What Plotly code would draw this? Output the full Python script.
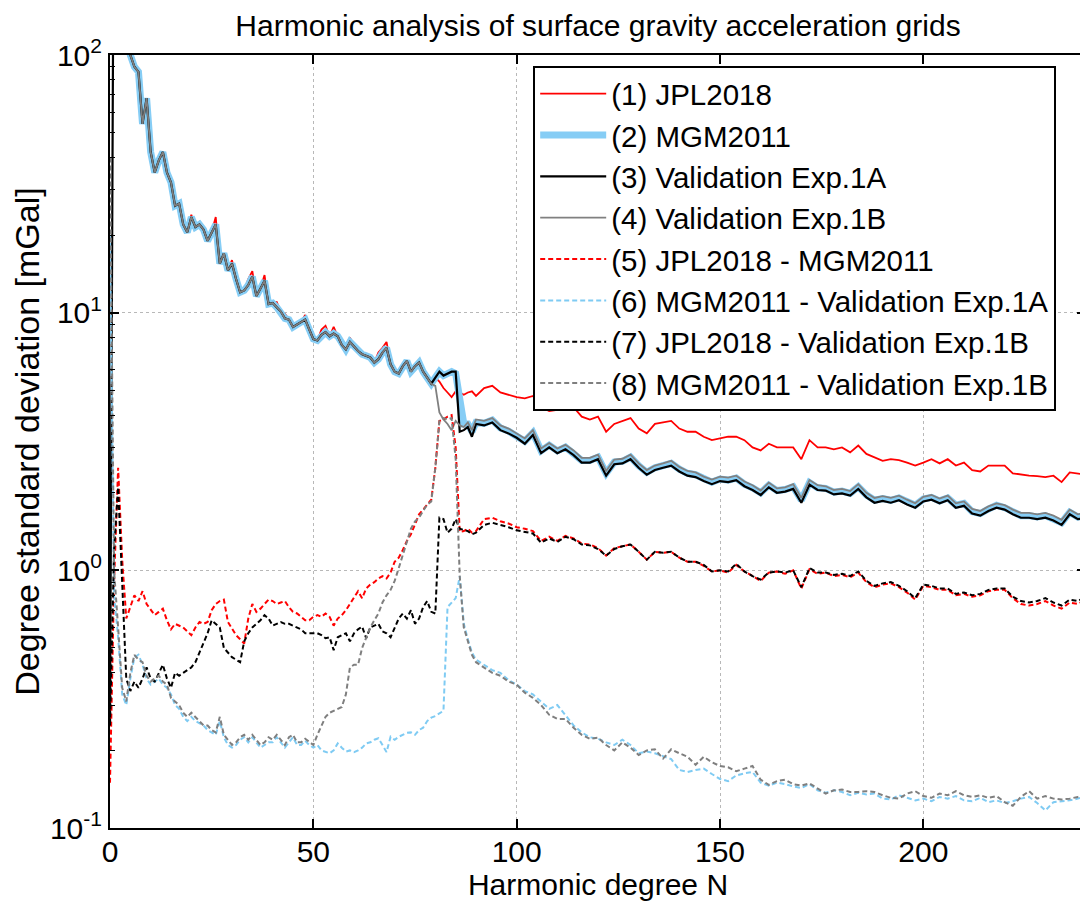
import plotly.graph_objects as go

# Harmonic degrees: per-degree head (0..90) and every second degree in the tail (92..240)
deg_head = list(range(0, 91))
deg_tail = list(range(92, 241, 2))

# (1) JPL2018
jpl_head = [None, 900, 400, 250, 150, 100, 90, 86, 54, 68,
            42, 35, 39, 42, 35, 32, 26, 26.5, 22, 21,
            24, 21.5, 22.5, 21, 19, 20.5, 23.5, 15.5, 17, 14.6,
            16, 13.5, 12, 12.2, 13.5, 14.5, 11.6, 12.4, 14, 10.8,
            10.9, 11, 10.1, 9.9, 9.4, 8.8, 9.0, 9.2, 9.8, 8.6,
            7.9, 7.8, 8.6, 8.9, 8.1, 8.8, 8.1, 7.5, 7.5, 8.0,
            7.4, 7.1, 6.9, 6.8, 6.7, 6.4, 7.0, 7.3, 7.7, 6.3,
            5.9, 5.8, 6.2, 6.5, 5.9, 6.2, 6.4, 5.9, 5.6, 5.4,
            5.6, 5.4, 5.1, 4.9, 4.7, 4.95, 4.9, 4.8, 4.9, 4.95,
            4.75]
jpl_tail = [5.1, 5.2, 4.9, 4.8, 4.7,
            4.65, 4.75, 4.3, 4.15, 4.2,
            4.25, 4.3, 3.95, 3.85, 3.95,
            3.45, 3.7, 3.8, 3.9, 3.55,
            3.4, 3.7, 3.75, 3.8, 3.55,
            3.45, 3.45, 3.3, 3.2, 3.25,
            3.3, 3.3, 3.2, 3.0, 2.92,
            3.1, 3.0, 3.0, 3.0, 2.7,
            3.2, 3.0, 3.0, 2.95, 3.0,
            2.87, 3.05, 2.83, 2.75, 2.66,
            2.7, 2.68, 2.62, 2.55, 2.62,
            2.7, 2.6, 2.7, 2.55, 2.62,
            2.45, 2.42, 2.55, 2.55, 2.55,
            2.38, 2.35, 2.33, 2.32, 2.3,
            2.33, 2.2, 2.4, 2.37, 2.35]

# (2) MGM2011
mgm_head = [None, 900, 400, 250, 150, 100, 90, 86, 54, 68,
            42, 35, 39, 42, 35, 32, 26, 26.5, 22, 20.5,
            23.5, 21.5, 22, 21, 19, 20.5, 22, 15.5, 17, 14.6,
            15.5, 13.5, 12, 12.2, 12.8, 13.8, 11.6, 12.4, 13.3, 10.8,
            10.9, 10.5, 10.1, 9.5, 9.4, 8.8, 9.0, 9.2, 9.4, 8.6,
            7.9, 7.8, 8.2, 8.4, 8.1, 8.3, 8.1, 7.5, 7.2, 7.7,
            7.4, 7.1, 6.9, 6.8, 6.7, 6.4, 6.6, 7.0, 7.3, 6.3,
            5.9, 5.8, 6.2, 6.5, 5.9, 6.2, 6.4, 5.9, 5.6, 5.3,
            5.6, 5.9, 5.7, 5.8, 5.9, 5.8, 4.6, 3.7, 3.7, 3.45,
            3.75]
mgm_tail = [3.72, 3.83, 3.57, 3.47, 3.33,
            3.17, 3.42, 2.91, 3.06, 2.91,
            3.01, 2.86, 2.67, 2.67, 2.75,
            2.38, 2.63, 2.65, 2.75, 2.55,
            2.4, 2.5, 2.55, 2.6, 2.47,
            2.38, 2.35, 2.26, 2.2, 2.26,
            2.24, 2.28, 2.16, 2.09, 2.0,
            2.14, 2.04, 2.06, 2.11, 1.87,
            2.19, 2.09, 2.08, 2.01, 2.03,
            1.99, 2.11, 1.96, 1.87, 1.9,
            1.87, 1.91, 1.84, 1.79, 1.89,
            1.92, 1.86, 1.91, 1.79, 1.82,
            1.69, 1.66, 1.73, 1.79, 1.75,
            1.68, 1.63, 1.63, 1.61, 1.63,
            1.59, 1.53, 1.68, 1.61, 1.63]

# (3) Validation Exp.1A
v1a_head = [0.25, 900, 400, 250, 150, 100, 90, 86, 54, 68,
            42, 35, 39, 42, 35, 32, 26, 26.5, 22, 20.5,
            23.5, 21.5, 22, 21, 19, 20.5, 22, 15.5, 17, 14.6,
            15.5, 13.5, 12, 12.2, 12.8, 13.8, 11.6, 12.4, 13.3, 10.8,
            10.9, 10.5, 10.1, 9.5, 9.4, 8.8, 9.0, 9.2, 9.4, 8.6,
            7.9, 7.8, 8.2, 8.4, 8.1, 8.3, 8.1, 7.5, 7.2, 7.7,
            7.4, 7.1, 6.9, 6.8, 6.7, 6.4, 6.6, 7.0, 7.3, 6.3,
            5.9, 5.8, 6.2, 6.5, 5.9, 6.2, 6.4, 5.9, 5.6, 5.3,
            5.6, 5.9, 5.7, 5.8, 5.9, 5.9, 3.45, 3.5, 3.6, 3.3,
            3.7]
v1a_tail = [3.65, 3.75, 3.5, 3.4, 3.27,
            3.1, 3.35, 2.85, 3.0, 2.85,
            2.95, 2.8, 2.62, 2.62, 2.7,
            2.33, 2.58, 2.6, 2.7, 2.5,
            2.35, 2.45, 2.5, 2.55, 2.42,
            2.33, 2.3, 2.22, 2.16, 2.22,
            2.2, 2.24, 2.12, 2.05, 1.96,
            2.1, 2.0, 2.02, 2.07, 1.83,
            2.15, 2.05, 2.04, 1.97, 1.99,
            1.95, 2.07, 1.92, 1.83, 1.86,
            1.83, 1.87, 1.8, 1.75, 1.85,
            1.88, 1.82, 1.87, 1.75, 1.78,
            1.66, 1.63, 1.7, 1.75, 1.72,
            1.65, 1.6, 1.6, 1.58, 1.6,
            1.56, 1.5, 1.65, 1.58, 1.6]

# (4) Validation Exp.1B
v1b_head = [None, 900, 400, 250, 150, 100, 90, 86, 54, 68,
            42, 35, 39, 42, 35, 32, 26, 26.5, 22, 20.5,
            23.5, 21.5, 22, 21, 19, 20.5, 22, 15.5, 17, 14.6,
            15.5, 13.5, 12, 12.2, 12.8, 13.8, 11.6, 12.4, 13.3, 10.8,
            10.9, 10.5, 10.1, 9.5, 9.4, 8.8, 9.0, 9.2, 9.4, 8.6,
            7.9, 7.8, 8.2, 8.4, 8.1, 8.3, 8.1, 7.5, 7.2, 7.7,
            7.4, 7.1, 6.9, 6.8, 6.7, 6.4, 6.6, 7.0, 7.3, 6.3,
            5.9, 5.8, 6.2, 6.5, 5.9, 6.2, 6.4, 5.9, 5.6, 5.3,
            5.2, 4.1, 3.85, 3.7, 3.5, 3.8, 3.65, 3.6, 3.75, 3.5,
            3.85]
v1b_tail = [3.8, 3.9, 3.65, 3.55, 3.4,
            3.25, 3.5, 2.97, 3.12, 2.97,
            3.07, 2.92, 2.73, 2.73, 2.81,
            2.43, 2.69, 2.71, 2.81, 2.6,
            2.45, 2.55, 2.6, 2.66, 2.52,
            2.43, 2.4, 2.31, 2.25, 2.31,
            2.29, 2.33, 2.21, 2.14, 2.04,
            2.19, 2.08, 2.1, 2.16, 1.91,
            2.24, 2.14, 2.12, 2.05, 2.07,
            2.03, 2.16, 2.0, 1.91, 1.94,
            1.91, 1.95, 1.88, 1.82, 1.93,
            1.96, 1.9, 1.95, 1.82, 1.85,
            1.73, 1.7, 1.77, 1.82, 1.79,
            1.72, 1.67, 1.67, 1.65, 1.67,
            1.63, 1.57, 1.72, 1.65, 1.67]

# (5) JPL2018 - MGM2011
d_jm_head = [0.15, 0.9, 2.5, 1.1, 0.65, 0.72, 0.8, 0.76, 0.83, 0.74,
             0.7, 0.67, 0.69, 0.71, 0.64, 0.59, 0.62, 0.61, 0.6, 0.58,
             0.56, 0.6, 0.63, 0.62, 0.63, 0.7, 0.74, 0.76, 0.77, 0.63,
             0.59, 0.56, 0.54, 0.52, 0.65, 0.74, 0.69, 0.71, 0.74, 0.77,
             0.76, 0.74, 0.75, 0.76, 0.72, 0.69, 0.68, 0.66, 0.64, 0.64,
             0.66, 0.67, 0.66, 0.68, 0.66, 0.61, 0.65, 0.67, 0.7, 0.74,
             0.78, 0.83, 0.78, 0.85, 0.88, 0.9, 0.93, 0.95, 0.93, 0.98,
             1.08, 1.12, 1.2, 1.3, 1.38, 1.5, 1.65, 1.72, 1.8, 1.88,
             2.5, 3.8, 3.85, 3.95, 4.0, 3.0, 1.41, 1.42, 1.45, 1.4,
             1.42]
d_jm_tail = [1.58, 1.6, 1.55, 1.52, 1.47,
             1.45, 1.42, 1.3, 1.35, 1.3,
             1.36, 1.33, 1.27, 1.26, 1.22,
             1.14, 1.22, 1.24, 1.26, 1.18,
             1.1, 1.18, 1.17, 1.18, 1.12,
             1.08, 1.08, 1.04, 0.99, 1.0,
             0.98, 1.05, 0.99, 0.95, 0.91,
             0.98, 0.99, 0.97, 1.0, 0.85,
             1.01, 0.97, 0.98, 0.95, 0.96,
             0.94, 0.98, 0.9, 0.86, 0.88,
             0.89, 0.86, 0.82, 0.77, 0.87,
             0.86, 0.84, 0.84, 0.8, 0.81,
             0.79, 0.8, 0.83, 0.84, 0.84,
             0.78, 0.74, 0.73, 0.74, 0.76,
             0.73, 0.71, 0.75, 0.74, 0.77]

# (6) MGM2011 - Validation Exp.1A
d_m1a_head = [20, 0.8, 0.55, 0.33, 0.3, 0.38, 0.46, 0.47, 0.43, 0.38,
              0.36, 0.37, 0.38, 0.36, 0.35, 0.33, 0.3, 0.29, 0.27, 0.26,
              0.27, 0.26, 0.255, 0.25, 0.24, 0.235, 0.23, 0.26, 0.225, 0.21,
              0.205, 0.21, 0.22, 0.225, 0.215, 0.225, 0.215, 0.205, 0.21, 0.215,
              0.215, 0.225, 0.215, 0.205, 0.215, 0.225, 0.21, 0.21, 0.218, 0.21,
              0.205, 0.21, 0.2, 0.198, 0.195, 0.2, 0.213, 0.205, 0.198, 0.2,
              0.197, 0.2, 0.205, 0.213, 0.215, 0.22, 0.223, 0.21, 0.197, 0.226,
              0.22, 0.226, 0.23, 0.234, 0.235, 0.23, 0.24, 0.245, 0.26, 0.268,
              0.272, 0.279, 0.285, 0.72, 0.75, 0.78, 0.95, 0.62, 0.54, 0.48,
              0.45]
d_m1a_tail = [0.43, 0.41, 0.4, 0.375, 0.36,
              0.34, 0.33, 0.31, 0.29, 0.3,
              0.275, 0.25, 0.235, 0.225, 0.222,
              0.215, 0.21, 0.22, 0.21, 0.195,
              0.198, 0.195, 0.19, 0.185, 0.168,
              0.165, 0.168, 0.17, 0.162, 0.155,
              0.152, 0.16, 0.163, 0.165, 0.15,
              0.146, 0.15, 0.148, 0.145, 0.143,
              0.148, 0.14, 0.137, 0.14, 0.138,
              0.134, 0.137, 0.135, 0.136, 0.13,
              0.129, 0.134, 0.131, 0.128, 0.13,
              0.127, 0.132, 0.13, 0.133, 0.128,
              0.127, 0.131, 0.126, 0.128, 0.125,
              0.127, 0.13, 0.132, 0.125, 0.117,
              0.126, 0.127, 0.128, 0.13, 0.133]

# (7) JPL2018 - Validation Exp.1B
d_j1b_head = [0.25, 1.2, 2.1, 0.9, 0.38, 0.34, 0.37, 0.35, 0.38, 0.42,
              0.38, 0.37, 0.4, 0.43, 0.38, 0.35, 0.4, 0.39, 0.4, 0.41,
              0.42, 0.44, 0.48, 0.52, 0.57, 0.64, 0.62, 0.6, 0.5, 0.48,
              0.46, 0.45, 0.44, 0.53, 0.57, 0.6, 0.62, 0.64, 0.67, 0.65,
              0.61, 0.62, 0.63, 0.62, 0.62, 0.61, 0.6, 0.59, 0.57, 0.57,
              0.57, 0.57, 0.56, 0.545, 0.55, 0.49, 0.55, 0.56, 0.57, 0.53,
              0.57, 0.59, 0.605, 0.545, 0.6, 0.61, 0.62, 0.58, 0.57, 0.55,
              0.6, 0.65, 0.68, 0.65, 0.7, 0.62, 0.65, 0.72, 0.76, 0.69,
              0.68, 1.6, 1.58, 1.4, 1.45, 1.58, 1.45, 1.43, 1.42, 1.38,
              1.4]
d_j1b_tail = [1.5, 1.53, 1.5, 1.47, 1.43,
              1.41, 1.39, 1.28, 1.33, 1.29,
              1.35, 1.32, 1.26, 1.25, 1.21,
              1.14, 1.21, 1.24, 1.26, 1.18,
              1.1, 1.18, 1.17, 1.18, 1.12,
              1.08, 1.08, 1.05, 0.99, 1.0,
              0.99, 1.06, 0.99, 0.95, 0.92,
              0.98, 0.99, 0.98, 1.0, 0.86,
              1.02, 0.98, 0.98, 0.96, 0.97,
              0.95, 0.99, 0.91, 0.87, 0.89,
              0.9, 0.87, 0.83, 0.78, 0.88,
              0.87, 0.85, 0.85, 0.81, 0.82,
              0.8, 0.81, 0.84, 0.85, 0.85,
              0.79, 0.76, 0.75, 0.76, 0.78,
              0.75, 0.73, 0.77, 0.76, 0.79]

# (8) MGM2011 - Validation Exp.1B
d_m1b_head = [40, 1.0, 0.6, 0.35, 0.31, 0.4, 0.47, 0.45, 0.44, 0.39,
              0.37, 0.38, 0.39, 0.37, 0.36, 0.32, 0.31, 0.3, 0.28, 0.27,
              0.28, 0.27, 0.26, 0.25, 0.25, 0.24, 0.235, 0.27, 0.23, 0.22,
              0.21, 0.215, 0.225, 0.23, 0.22, 0.23, 0.22, 0.21, 0.215, 0.225,
              0.22, 0.23, 0.22, 0.21, 0.225, 0.23, 0.215, 0.215, 0.222, 0.215,
              0.21, 0.23, 0.25, 0.27, 0.28, 0.285, 0.29, 0.295, 0.33, 0.42,
              0.43, 0.43, 0.5, 0.545, 0.6, 0.64, 0.68, 0.75, 0.8, 0.84,
              0.91, 1.02, 1.15, 1.3, 1.45, 1.55, 1.6, 1.7, 1.8, 1.85,
              2.5, 3.8, 3.9, 3.85, 3.9, 2.7, 0.95, 0.6, 0.53, 0.47,
              0.44]
d_m1b_tail = [0.42, 0.4, 0.39, 0.37, 0.36,
              0.335, 0.32, 0.3, 0.275, 0.265,
              0.265, 0.245, 0.23, 0.222, 0.224,
              0.21, 0.2, 0.215, 0.205, 0.192,
              0.2, 0.202, 0.186, 0.202, 0.195,
              0.189, 0.176, 0.189, 0.18, 0.174,
              0.172, 0.166, 0.17, 0.174, 0.154,
              0.147, 0.152, 0.154, 0.148, 0.146,
              0.149, 0.142, 0.136, 0.14, 0.141,
              0.138, 0.138, 0.139, 0.138, 0.134,
              0.131, 0.13, 0.136, 0.139, 0.133,
              0.131, 0.136, 0.134, 0.139, 0.134,
              0.132, 0.134, 0.131, 0.133, 0.126,
              0.122, 0.132, 0.139, 0.13, 0.133,
              0.13, 0.129, 0.13, 0.132, 0.134]

series = [
    ("(1) JPL2018", jpl_head, jpl_tail, "#ff0000", 1.8, "solid"),
    ("(2) MGM2011", mgm_head, mgm_tail, "#86cdf5", 7, "solid"),
    ("(3) Validation Exp.1A", v1a_head, v1a_tail, "#000000", 2.2, "solid"),
    ("(4) Validation Exp.1B", v1b_head, v1b_tail, "#808080", 1.8, "solid"),
    ("(5) JPL2018 - MGM2011", d_jm_head, d_jm_tail, "#ff0000", 2, "5px,3px"),
    ("(6) MGM2011 - Validation Exp.1A", d_m1a_head, d_m1a_tail, "#7fcbf3", 2, "5px,3px"),
    ("(7) JPL2018 - Validation Exp.1B", d_j1b_head, d_j1b_tail, "#000000", 2, "5px,3px"),
    ("(8) MGM2011 - Validation Exp.1B", d_m1b_head, d_m1b_tail, "#7f7f7f", 2, "5px,3px"),
]

FONT = "Liberation Sans, Arial, Helvetica, sans-serif"

fig = go.Figure()
for name, head, tail, color, width, dash in series:
    fig.add_trace(go.Scatter(
        x=deg_head + deg_tail,
        y=head + tail,
        mode="lines",
        name=name,
        line=dict(color=color, width=width, dash=dash),
        connectgaps=False,
    ))

axis_common = dict(
    showline=True, linecolor="black", linewidth=2, mirror="ticks",
    ticks="inside", ticklen=9, tickwidth=2, tickcolor="black",
    showgrid=True, gridcolor="#b8b8b8", gridwidth=1, griddash="dot",
    zeroline=False, tickfont=dict(size=30, color="black", family=FONT),
)

# The page places the figure 8 px from the top-left corner; the figure is sized
# so that it fits completely inside the 1088x901 window.
fig.update_layout(
    width=1080, height=893,
    margin=dict(l=102, r=0, t=47, b=73),
    paper_bgcolor="white", plot_bgcolor="white",
    font=dict(family=FONT, size=30, color="black"),
    title=dict(text="Harmonic analysis of surface gravity acceleration grids",
               x=0.5, xref="paper", y=1 - 17 / 893, yref="container",
               xanchor="center", yanchor="middle",
               font=dict(size=30, family=FONT, color="black")),
    xaxis=dict(range=[0, 240], tickvals=[0, 50, 100, 150, 200],
               ticklabelstandoff=-4,
               title=dict(text="Harmonic degree N", standoff=0,
                          font=dict(size=30, family=FONT)),
               **axis_common),
    yaxis=dict(type="log", range=[-1, 2],
               tickvals=[0.1, 1, 10, 100],
               ticktext=["10<sup>-1</sup>", "10<sup>0</sup>", "10<sup>1</sup>", "10<sup>2</sup>"],
               minor=dict(ticks="inside", ticklen=5, tickwidth=1, tickcolor="black",
                          dtick="D1", showgrid=False),
               title=dict(text="Degree standard deviation [mGal]", standoff=0,
                          font=dict(size=34, family=FONT)),
               **axis_common),
    legend=dict(x=0.4336, y=0.9858, xanchor="left", yanchor="top",
                bgcolor="white", bordercolor="black", borderwidth=2,
                font=dict(size=29.5, family=FONT, color="black"),
                itemwidth=66, tracegroupgap=0),
    showlegend=True,
)

fig.write_html("out.html")
